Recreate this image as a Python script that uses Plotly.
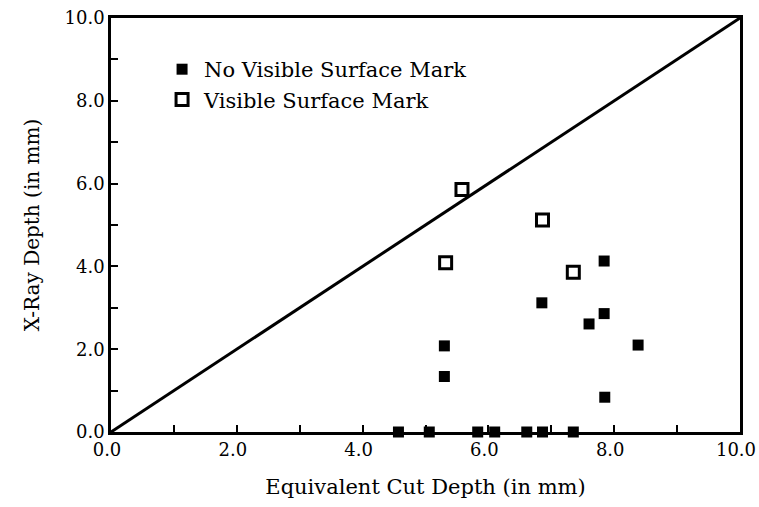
import plotly.graph_objects as go

# Data
no_mark_x = [5.30, 5.30, 6.85, 7.84, 7.60, 7.84, 8.38, 7.85,
             4.57, 5.06, 5.83, 6.10, 6.61, 6.86, 7.35]
no_mark_y = [2.08, 1.34, 3.12, 4.13, 2.61, 2.86, 2.10, 0.84,
             0.0, 0.0, 0.0, 0.0, 0.0, 0.0, 0.0]
mark_x = [5.58, 6.86, 5.32, 7.35]
mark_y = [5.86, 5.12, 4.09, 3.86]
line_x = [0.0, 10.0]
line_y = [0.0, 10.0]
tick_vals = [0, 1, 2, 3, 4, 5, 6, 7, 8, 9, 10]
tick_text = ["0.0", "", "2.0", "", "4.0", "", "6.0", "", "8.0", "", "10.0"]

FONT = "DejaVu Serif"

fig = go.Figure()
fig.add_trace(go.Scatter(x=line_x, y=line_y, mode="lines",
                         line=dict(color="black", width=3),
                         showlegend=False, hoverinfo="skip"))
fig.add_trace(go.Scatter(x=no_mark_x, y=no_mark_y, mode="markers",
                         name="No Visible Surface Mark",
                         marker=dict(symbol="square", size=11, color="black",
                                     line=dict(color="black", width=0)),
                         cliponaxis=False))
fig.add_trace(go.Scatter(x=mark_x, y=mark_y, mode="markers",
                         name="Visible Surface Mark",
                         marker=dict(symbol="square", size=12, color="white",
                                     line=dict(color="black", width=3)),
                         cliponaxis=False))

axis_common = dict(range=[0, 10], tickvals=tick_vals, ticktext=tick_text,
                   ticks="inside", ticklen=7, tickwidth=2, tickcolor="black",
                   showline=True, linecolor="black", linewidth=2.5,
                   mirror=True, showgrid=False, zeroline=False,
                   automargin=False,
                   tickfont=dict(family=FONT, size=18, color="black"))

fig.update_layout(
    width=759, height=507,
    margin=dict(l=111, r=19, t=18, b=75),
    paper_bgcolor="white", plot_bgcolor="white",
    xaxis=dict(**axis_common, ticklabelshift=-4, ticklabeloverflow="allow",
               title=dict(text="Equivalent Cut Depth (in mm)", standoff=20,
                          font=dict(family=FONT, size=21, color="black"))),
    yaxis=dict(**axis_common,
               title=dict(text="X-Ray Depth (in mm)", standoff=20,
                          font=dict(family=FONT, size=20, color="black"))),
    legend=dict(x=0.078, y=0.925, xanchor="left", yanchor="top",
                bgcolor="rgba(0,0,0,0)", itemwidth=34,
                font=dict(family=FONT, size=21, color="black")),
    showlegend=True,
)

fig.write_html("out.html")
